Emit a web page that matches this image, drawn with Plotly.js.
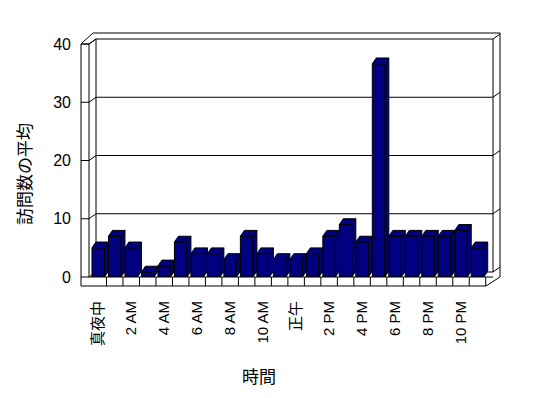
<!DOCTYPE html>
<html>
<head>
<meta charset="utf-8">
<script src="https://cdn.plot.ly/plotly-3.0.1.min.js"></script>
<style>html,body{margin:0;padding:0;background:#fff;}#chart{width:548px;height:398px;}</style>
</head>
<body>
<div id="chart"></div>
<script>
// ---- data ----
const hours = [0,1,2,3,4,5,6,7,8,9,10,11,12,13,14,15,16,17,18,19,20,21,22,23];
const visits = [5,7,5,0.85,1.9,6,4,4,3,7,4,3,3,4,7,9,6,36.6,7,7,7,7,8,5];
const tickHours = [0,2,4,6,8,10,12,14,16,18,20,22];
const tickLabels = ["真夜中","2 AM","4 AM","6 AM","8 AM","10 AM","正午","2 PM","4 PM","6 PM","8 PM","10 PM"];
const yTicks = [0,10,20,30,40];

// ---- geometry ----
const L = 90, T = 44, W = 404, H = 233;
const XR = [-0.5, 24.0], YR = [0, 40];
const barW = 0.76, dX = 0.24, dY = 1.0;
const FONT = '"Liberation Sans", Arial, "Noto Sans CJK JP", sans-serif';
const NAVY = '#000080';

const px = v => (v - L) / W;            // pixel x -> paper
const py = v => (T + H - v) / H;        // pixel y -> paper
const yPx = val => T + H - (val - YR[0]) / (YR[1] - YR[0]) * H;
const catW = W / (XR[1] - XR[0]);

// 3D faces built from the data
const sideX = [], sideY = [], topX = [], topY = [];
hours.forEach((h, i) => {
  const v = visits[i];
  const xl = h - barW / 2, xr = h + barW / 2;
  sideX.push(xr, xr + dX, xr + dX, xr, xr, null);
  sideY.push(0, dY, v + dY, v, 0, null);
  topX.push(xl, xr, xr + dX, xl + dX, xl, null);
  topY.push(v, v, v + dY, v + dY, v, null);
});

const traces = [
  {type: 'bar', x: hours, y: visits, width: barW,
   marker: {color: NAVY, line: {color: '#000', width: 1}}, hoverinfo: 'skip'},
  {type: 'scatter', mode: 'lines', x: sideX, y: sideY, fill: 'toself', fillcolor: NAVY,
   line: {color: '#000', width: 1}, hoverinfo: 'skip', connectgaps: false},
  {type: 'scatter', mode: 'lines', x: topX, y: topY, fill: 'toself', fillcolor: NAVY,
   line: {color: '#000', width: 1}, hoverinfo: 'skip', connectgaps: false}
];

// frame (walls & floor) as decorative shapes
const shapes = [];
function seg(x0, y0, x1, y1, layer) {
  shapes.push({type: 'line', xref: 'paper', yref: 'paper', x0: px(x0), y0: py(y0), x1: px(x1), y1: py(y1),
               line: {color: '#000', width: 1}, layer: layer || 'above'});
}
const floorY = T + H, floorBot = floorY + 9;
const backL = 96, backR = 493, outR = 500, wallF = 81, wallI = 89;
// left wall
seg(wallF, T, wallF, floorBot);
seg(wallI, T, wallI, floorY);
seg(wallF, T, wallI, T);
seg(wallF + 1, T - 1, 93, 33);
seg(wallI, T, backL, T - 5);
// top & right edges
seg(93, 33, outR, 33);
seg(outR, 33, outR, floorY);
seg(outR, floorY, 486, floorBot);
seg(backR, T - 5, backR, floorY - 5, 'below');
seg(backL, T - 5, backL, floorY - 5, 'below');
// gridlines on back wall
yTicks.forEach(t => {
  const fy = yPx(t), by = fy - 5;
  seg(backL, by, backR, by, 'below');
  seg(wallI, fy, backL, by, 'below');
  seg(wallF, fy, wallI, fy);
  seg(backR, by, outR, by - 5, 'below');
});
// floor strip
seg(wallF, floorBot, 486, floorBot);
seg(wallI, floorY, backR, floorY);
for (let k = 1; k <= 24; k++) {
  const xx = L + k * catW;
  seg(xx, floorY, xx, floorBot);
}

const layout = {
  width: 548, height: 398,
  margin: {l: L, r: 548 - L - W, t: T, b: 398 - T - H, pad: 0},
  paper_bgcolor: '#fff', plot_bgcolor: 'rgba(0,0,0,0)',
  showlegend: false, hovermode: false,
  font: {family: FONT, color: '#000', size: 16},
  xaxis: {range: XR, tickvals: tickHours, ticktext: tickLabels, tickangle: -90,
          showgrid: false, zeroline: false, showline: false, ticks: '',
          ticklabelstandoff: 20, tickfont: {family: FONT, size: 15, color: '#000'}, fixedrange: true},
  yaxis: {range: YR, tickvals: yTicks, showgrid: false, zeroline: false, showline: false, ticks: '',
          ticklabelstandoff: 18, tickfont: {family: FONT, size: 16, color: '#000'}, fixedrange: true},
  shapes: shapes,
  annotations: [
    {xref: 'paper', yref: 'paper', x: px(25), y: py(174), text: '訪問数の平均', showarrow: false,
     textangle: -90, font: {family: FONT, size: 17, color: '#000'}, xanchor: 'center', yanchor: 'middle'},
    {xref: 'paper', yref: 'paper', x: px(259), y: py(377), text: '時間', showarrow: false,
     font: {family: FONT, size: 17, color: '#000'}, xanchor: 'center', yanchor: 'middle'}
  ]
};

Plotly.newPlot('chart', traces, layout, {staticPlot: true, displayModeBar: false});
</script>
</body>
</html>
